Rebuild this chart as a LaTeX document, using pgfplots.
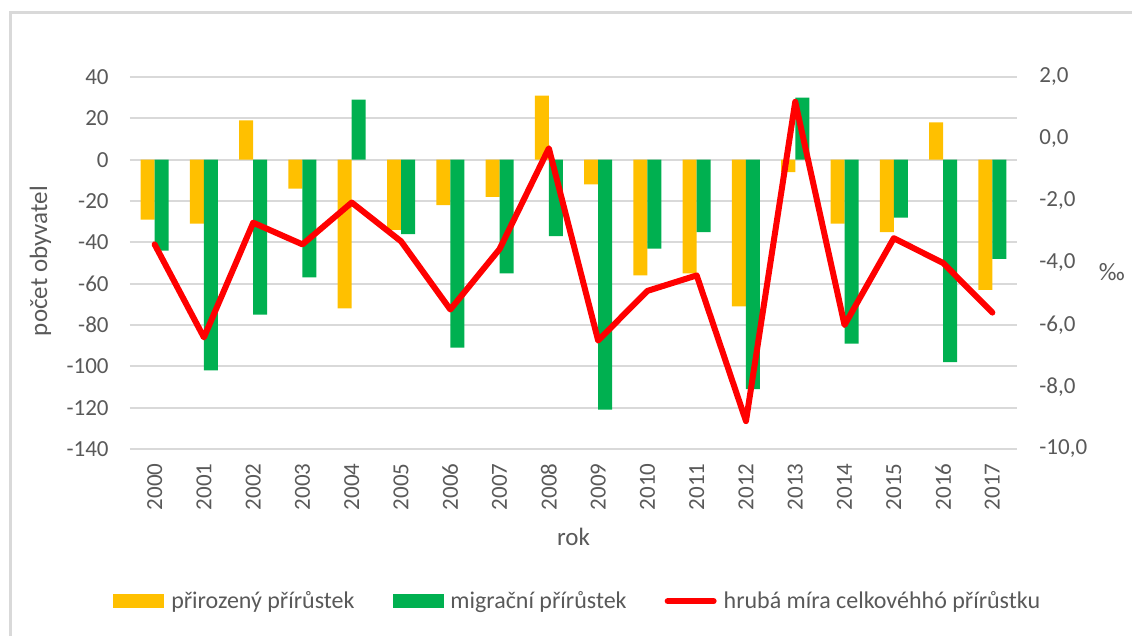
\documentclass[border=0pt]{standalone}
\usepackage{fontspec}
\setmainfont{Carlito}
\usepackage{pgfplots}
\usepackage{pgfplotstable}
\pgfplotsset{compat=1.18}

\definecolor{txt}{RGB}{89,89,89}
\definecolor{grd}{RGB}{217,217,217}
\definecolor{prir}{RGB}{255,192,0}
\definecolor{migr}{RGB}{0,176,80}
\definecolor{hruba}{RGB}{255,0,0}

% i = poradi, p = prirozeny, m = migracni, h = hruba mira (promile)
\pgfplotstableread{
i rok p m h
0 2000 -29 -44 -3.4
1 2001 -31 -102 -6.4
2 2002 19 -75 -2.7
3 2003 -14 -57 -3.4
4 2004 -72 29 -2.05
5 2005 -34 -36 -3.3
6 2006 -22 -91 -5.5
7 2007 -18 -55 -3.55
8 2008 31 -37 -0.3
9 2009 -12 -121 -6.5
10 2010 -56 -43 -4.9
11 2011 -55 -35 -4.4
12 2012 -71 -111 -9.1
13 2013 -6 30 1.2
14 2014 -31 -89 -6.0
15 2015 -35 -28 -3.2
16 2016 18 -98 -4.0
17 2017 -63 -48 -5.6
}\data

\pgfplotsset{
  spolecne/.style={
    at={(65pt,-224.5pt)}, anchor=south west,
    scale only axis, width=443.5pt, height=186pt,
    xmin=-0.5, xmax=17.5,
    axis line style={draw=none},
    major tick length=0pt,
    tick label style={text=txt, font=\fontsize{11.5}{13}\selectfont},
    label style={text=txt, font=\fontsize{12.5}{14}\selectfont},
    /pgf/number format/assume math mode=true,
    /pgf/number format/1000 sep={},
  },
}

\begin{document}
\begin{tikzpicture}
\useasboundingbox (0,0) rectangle (566pt,-318pt);
\draw[grd, line width=1.5pt] (5pt,-318pt) -- (5pt,-6.5pt) -- (566pt,-6.5pt);

\begin{axis}[
  spolecne,
  ybar=0pt, bar width=7pt,
  ymin=-140, ymax=40, ytick={-140,-120,...,40},
  ymajorgrids, grid style={grd, line width=0.9pt},
  xtick={0,...,17},
  xticklabels={2000,2001,2002,2003,2004,2005,2006,2007,2008,2009,2010,2011,2012,2013,2014,2015,2016,2017},
  xticklabel style={rotate=90, anchor=east, inner sep=0pt},
  xticklabel shift=7pt,
  yticklabel style={inner sep=0pt},
  yticklabel shift=10.5pt,
  xlabel={rok},
  xlabel style={at={(axis description cs:0.5,-0.237)}, anchor=center},
  ylabel={počet obyvatel},
  ylabel style={at={(axis description cs:-0.101,0.505)}, anchor=center, rotate=0},
]
\addplot[fill=prir, draw=none] table[x=i, y=p] {\data};
\addplot[fill=migr, draw=none] table[x=i, y=m] {\data};
\end{axis}

\begin{axis}[
  spolecne,
  axis y line*=right, hide x axis,
  ymin=-10, ymax=2, ytick={-10,-8,...,2},
  yticklabel style={inner sep=0pt, /pgf/number format/.cd, fixed, fixed zerofill, precision=1, use comma},
  yticklabel shift=11pt,
  ylabel={‰},
  ylabel style={at={(axis description cs:1.107,0.476)}, anchor=center, rotate=-90},
  legend style={at={(axis description cs:0.506,-0.409)}, anchor=center,
    draw=none, fill=none, legend columns=3, text=txt,
    font=\fontsize{12}{14}\selectfont,
    /tikz/every odd column/.append style={column sep=1.5pt},
    /tikz/every even column/.append style={column sep=17pt}},
  legend cell align=left,
]
\addlegendimage{legend image code/.code={\fill[prir] (0pt,-3.25pt) rectangle (25pt,3.25pt);}}
\addlegendimage{legend image code/.code={\fill[migr] (0pt,-3.25pt) rectangle (25pt,3.25pt);}}
\addplot[hruba, line width=3pt, line join=round, line cap=round,
  legend image code/.code={\draw[hruba, line width=3pt, line cap=round] (0pt,0pt) -- (23pt,0pt);}]
  table[x=i, y=h] {\data};
\legend{přirozený přírůstek, migrační přírůstek, hrubá míra celkovéhhó přírůstku}
\end{axis}
\end{tikzpicture}
\end{document}
